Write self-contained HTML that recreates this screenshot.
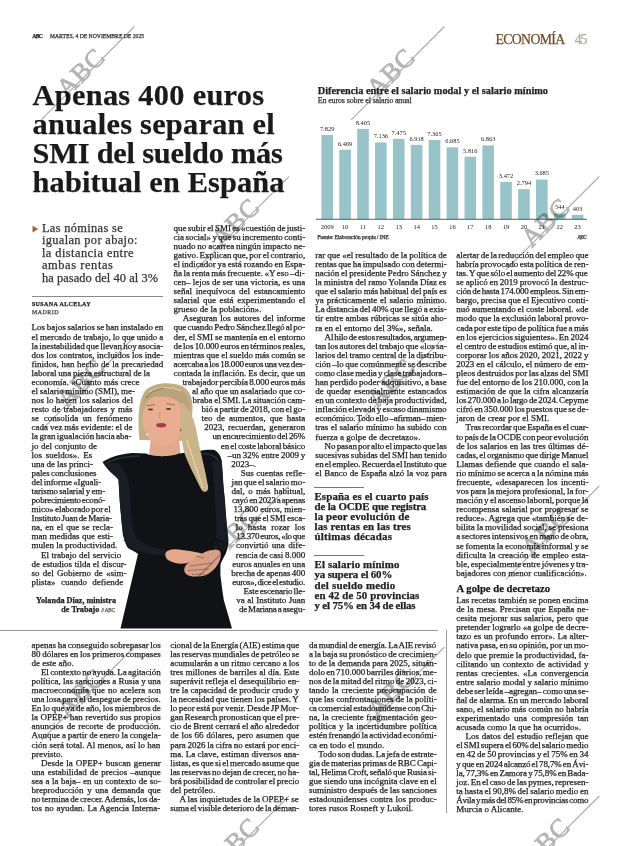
<!DOCTYPE html>
<html><head><meta charset="utf-8">
<style>
html,body{margin:0;padding:0;background:#fff;}
body{width:620px;height:846px;position:relative;overflow:hidden;font-family:"Liberation Serif","DejaVu Serif",serif;color:#222;}
.t{position:absolute;white-space:nowrap;line-height:1;-webkit-text-stroke:0.25px currentColor;}
.r{position:absolute;background:#999;}
svg{position:absolute;left:0;top:0;}
.vl{font:6.4px "Liberation Serif",serif;fill:#222;text-anchor:middle;}
.yl{font:6.5px "Liberation Serif",serif;fill:#222;text-anchor:middle;}
.wm{font:26px "Liberation Serif",serif;fill:#b4b4b4;stroke:#b4b4b4;stroke-width:0.8;letter-spacing:1px;}
.wl{stroke:#ababab;stroke-width:1.1;}
</style></head><body>
<svg width="620" height="846" viewBox="0 0 620 846">
<rect x="321.40" y="135.04" width="11.6" height="84.16" fill="#98c3c9"/>
<text x="327.20" y="130.94" class="vl">7.829</text>
<text x="327.20" y="228.5" class="yl">2009</text>
<rect x="339.29" y="149.66" width="11.6" height="69.54" fill="#98c3c9"/>
<text x="345.09" y="145.56" class="vl">6.469</text>
<text x="345.09" y="228.5" class="yl">10</text>
<rect x="357.17" y="128.85" width="11.6" height="90.35" fill="#98c3c9"/>
<text x="362.97" y="124.75" class="vl">8.405</text>
<text x="362.97" y="228.5" class="yl">11</text>
<rect x="375.06" y="142.49" width="11.6" height="76.71" fill="#98c3c9"/>
<text x="380.86" y="138.39" class="vl">7.136</text>
<text x="380.86" y="228.5" class="yl">12</text>
<rect x="392.94" y="138.84" width="11.6" height="80.36" fill="#98c3c9"/>
<text x="398.74" y="134.74" class="vl">7.475</text>
<text x="398.74" y="228.5" class="yl">13</text>
<rect x="410.83" y="144.83" width="11.6" height="74.37" fill="#98c3c9"/>
<text x="416.63" y="140.73" class="vl">6.918</text>
<text x="416.63" y="228.5" class="yl">14</text>
<rect x="428.72" y="140.03" width="11.6" height="79.17" fill="#98c3c9"/>
<text x="434.52" y="135.93" class="vl">7.365</text>
<text x="434.52" y="228.5" class="yl">15</text>
<rect x="446.60" y="147.34" width="11.6" height="71.86" fill="#98c3c9"/>
<text x="452.40" y="143.24" class="vl">6.685</text>
<text x="452.40" y="228.5" class="yl">16</text>
<rect x="464.49" y="156.68" width="11.6" height="62.52" fill="#98c3c9"/>
<text x="470.29" y="152.58" class="vl">5.816</text>
<text x="470.29" y="228.5" class="yl">17</text>
<rect x="482.37" y="145.42" width="11.6" height="73.78" fill="#98c3c9"/>
<text x="488.17" y="141.32" class="vl">6.863</text>
<text x="488.17" y="228.5" class="yl">18</text>
<rect x="500.26" y="181.88" width="11.6" height="37.32" fill="#98c3c9"/>
<text x="506.06" y="177.78" class="vl">3.472</text>
<text x="506.06" y="228.5" class="yl">19</text>
<rect x="518.15" y="189.16" width="11.6" height="30.04" fill="#98c3c9"/>
<text x="523.95" y="185.06" class="vl">2.794</text>
<text x="523.95" y="228.5" class="yl">20</text>
<rect x="536.03" y="179.59" width="11.6" height="39.61" fill="#98c3c9"/>
<text x="541.83" y="175.49" class="vl">3.685</text>
<text x="541.83" y="228.5" class="yl">21</text>
<rect x="553.92" y="213.35" width="11.6" height="5.85" fill="#98c3c9"/>
<text x="559.72" y="209.25" class="vl">544</text>
<text x="559.72" y="228.5" class="yl">22</text>
<rect x="571.80" y="214.87" width="11.6" height="4.33" fill="#98c3c9"/>
<text x="577.60" y="210.77" class="vl">403</text>
<text x="577.60" y="228.5" class="yl">23</text>
<rect x="316" y="218.8" width="271" height="0.9" fill="#3c4c4e"/>
<path d="M139.5,440 C137.5,420 138,401 145,391 C153,382.5 170,381.5 182,386 C190,390 193,399 192.5,410 C192,421 190,431 188,441 Z" fill="#c3ad86"/>
<path d="M151,436 L179,436 L180.5,456 L149,456 Z" fill="#e2a98d"/>
<path d="M102.5,462 C110,457 120,454 132,453 L146,453.5 C152,457 172,457 179,453.5 L198,451 C206,449.5 211,449.5 214.6,450 C218,452 220.5,455 221.5,460 C222.5,467 222.5,474 222.7,480 C223.5,487 224.3,494 225,500 L226.2,520 L228.5,540 C228,547 227,551 225,555 C223,559 221,562 220.4,565 L220.4,575 C221.5,584 222.5,592 223.8,600 L232,628.6 L120.5,628.6 L138,554 C135,551.5 131,550 128,548 C126,546 124.5,540 122.9,535 L121.3,520 L119.7,500 L118.5,479 C112,474 106,468 102.5,462 Z" fill="#101216"/>
<path d="M106,463 C116,458 128,456 140,456" stroke="#2c2f36" stroke-width="1.5" fill="none"/>
<path d="M200,454 C208,453 214,455 218,460" stroke="#2c2f36" stroke-width="1.5" fill="none"/>
<path d="M124,540 C134,548 150,552 168,556" stroke="#2a2d34" stroke-width="1.2" fill="none"/>
<ellipse cx="163.6" cy="419.5" rx="21" ry="26" fill="#e9ae92"/>
<path d="M143.5,404 C145,392 154,386 166,385.5 C178,385.5 187,392 189.5,403 C190,410 189,416 187,421 C185,412 182,404 176,400 C168,395.5 157,395 149,398.5 C146.5,400 145,402 143.5,404 Z" fill="#b9a27c"/>
<path d="M149,392 C158,386.5 171,386 181,390.5" stroke="#d8c6a0" stroke-width="1.6" fill="none"/>
<path d="M146,398 C150,392 156,389 164,388.5" stroke="#8f7b5c" stroke-width="1" fill="none"/>
<path d="M146.5,406 L155,404.5 M166,403.5 L175,405" stroke="#9a7460" stroke-width="1"/>
<ellipse cx="150.5" cy="409.5" rx="2.6" ry="1.1" fill="#5a3a30"/>
<ellipse cx="168.5" cy="409" rx="2.6" ry="1.1" fill="#5a3a30"/>
<path d="M160,412 C159,416 158,418 161,419" stroke="#c98e78" stroke-width="0.9" fill="none"/>
<ellipse cx="161.2" cy="425.3" rx="5" ry="2.2" fill="#a83c4a"/>
<circle cx="181.5" cy="430" r="1.7" fill="#3e6a86"/><circle cx="147.4" cy="434.5" r="1.5" fill="#d8d2c6"/>
<path d="M181,402 C189,407 195,420 197,434 C200,452 205,468 208,486 C209,492 204,494 201,489 C195,476 188,464 184,452 C182,444 181,432 180.5,422 Z" fill="#cbb48a"/>
<path d="M187,440 C192,456 197,470 203,488" stroke="#e4d3ae" stroke-width="1.2" fill="none"/>
<path d="M104,463 C110,470 116,476 118.5,480 L120,505 L122,525 C123.5,537 126,545 132,549 C142,553 155,555 166,556 L167,550 C156,548 145,545 138,540 C132,532 131,515 130,495 C129,480 126,470 118,463 Z" fill="#1a1d24"/>
<path d="M221.5,460 C223,475 224,495 226,515 L228,540 C227,548 224,553 220,555 L213,552 C215,545 217,535 216,520 C215,500 214,480 212,462 Z" fill="#1a1d24"/>
<path d="M165.5,553 C168,549 174,548.5 182,550 C190,551 198,552 206,554.5 C209,556 208,559.5 204,560 C198,561 192,561 187,563 C181,565 173,563 168,560 C166,558.5 165,556 165.5,553 Z" fill="#e2a98f"/>
<path d="M220,551 C217,549 211,549.5 205,552 C199,555 193,559 188,563 C184,566 183,571 186,574 C190,577.5 200,577 206,575 C212,572.5 217,567 219.5,561 C221,557 221.5,553.5 220,551 Z" fill="#d99e85"/>
<path d="M190,566 L212,563 M188,570.5 L209,569 M192,574.5 L205,574 M196,556 L204,558" stroke="#8c5a48" stroke-width="0.7" fill="none"/>
<polygon points="32.5,225.8 38.4,229.1 32.5,232.4" fill="#9b6a3c"/>
</svg>
<div class="r" style="left:31.6px;top:295.7px;width:131.6px;height:1px;background:#8a8a8a"></div>
<div class="r" style="left:313.9px;top:487px;width:49.8px;height:0.9px;background:#777"></div>
<div class="r" style="left:313.9px;top:555px;width:50.3px;height:0.9px;background:#777"></div>
<div class="r" style="left:0;top:629.8px;width:437.6px;height:1.1px;background:#999"></div>
<div class="r" style="left:446px;top:629.5px;width:0.9px;height:183px;background:#999"></div>
<div class="t" style="left:31.60px;top:323.46px;font-size:9.0px;word-spacing:-0.562px;">Los bajos salarios se han instalado en</div>
<div class="t" style="left:31.60px;top:332.55px;font-size:9.0px;word-spacing:-0.264px;">el mercado de trabajo, lo que unido a</div>
<div class="t" style="left:31.60px;top:341.63px;font-size:9.0px;letter-spacing:-0.042px;word-spacing:-0.900px;">la inestabilidad que llevan hoy asocia-</div>
<div class="t" style="left:31.60px;top:350.71px;font-size:9.0px;word-spacing:0.022px;">dos los contratos, incluidos los inde-</div>
<div class="t" style="left:31.60px;top:359.79px;font-size:9.0px;word-spacing:0.332px;">finidos, han hecho de la precariedad</div>
<div class="t" style="left:31.60px;top:368.88px;font-size:9.0px;word-spacing:-0.558px;">laboral una pieza estructural de la</div>
<div class="t" style="left:31.60px;top:377.96px;font-size:9.0px;word-spacing:-0.019px;">economía. «Cuanto más crece</div>
<div class="t" style="left:31.60px;top:387.04px;font-size:9.0px;word-spacing:-0.607px;">el salario mínimo (SMI), me-</div>
<div class="t" style="left:31.60px;top:396.13px;font-size:9.0px;word-spacing:0.135px;">nos lo hacen los salarios del</div>
<div class="t" style="left:31.60px;top:405.21px;font-size:9.0px;word-spacing:0.734px;">resto de trabajadores y más</div>
<div class="t" style="left:31.60px;top:414.29px;font-size:9.0px;word-spacing:2.391px;">se consolida un fenómeno</div>
<div class="t" style="left:31.60px;top:423.38px;font-size:9.0px;word-spacing:-0.359px;">cada vez más evidente: el de</div>
<div class="t" style="left:31.60px;top:432.46px;font-size:9.0px;word-spacing:-0.886px;">la gran igualación hacia aba-</div>
<div class="t" style="left:31.60px;top:441.54px;font-size:9.0px;word-spacing:0.255px;">jo del conjunto de</div>
<div class="t" style="left:31.60px;top:450.62px;font-size:9.0px;word-spacing:1.474px;">los sueldos». Es</div>
<div class="t" style="left:31.60px;top:459.71px;font-size:9.0px;word-spacing:-0.276px;">una de las princi-</div>
<div class="t" style="left:31.60px;top:468.79px;font-size:9.0px;letter-spacing:-0.078px;word-spacing:-0.900px;">pales conclusiones</div>
<div class="t" style="left:31.60px;top:477.87px;font-size:9.0px;letter-spacing:-0.051px;word-spacing:-0.900px;">del informe «Iguali-</div>
<div class="t" style="left:31.60px;top:486.96px;font-size:9.0px;letter-spacing:-0.092px;word-spacing:-0.900px;">tarismo salarial y em-</div>
<div class="t" style="left:31.60px;top:496.04px;font-size:9.0px;letter-spacing:-0.222px;word-spacing:-0.900px;">pobrecimiento econó-</div>
<div class="t" style="left:31.60px;top:505.12px;font-size:9.0px;letter-spacing:-0.063px;word-spacing:-0.900px;">mico» elaborado por el</div>
<div class="t" style="left:31.60px;top:514.21px;font-size:9.0px;letter-spacing:-0.136px;word-spacing:-0.900px;">Instituto Juan de Maria-</div>
<div class="t" style="left:31.60px;top:523.29px;font-size:9.0px;word-spacing:0.689px;">na, en el que se recla-</div>
<div class="t" style="left:31.60px;top:532.37px;font-size:9.0px;word-spacing:0.224px;">man medidas que esti-</div>
<div class="t" style="left:31.60px;top:541.45px;font-size:9.0px;">mulen la productividad.</div>
<div class="t" style="left:40.90px;top:550.54px;font-size:9.0px;word-spacing:0.360px;">El trabajo del servicio</div>
<div class="t" style="left:31.60px;top:559.62px;font-size:9.0px;word-spacing:0.176px;">de estudios tilda el discur-</div>
<div class="t" style="left:31.60px;top:568.70px;font-size:9.0px;word-spacing:1.004px;">so del Gobierno de «sim-</div>
<div class="t" style="left:31.60px;top:577.79px;font-size:9.0px;word-spacing:3.065px;">plista» cuando defiende</div>
<div class="t" style="left:173.50px;top:223.56px;font-size:9.0px;letter-spacing:-0.006px;word-spacing:-0.900px;">que subir el SMI es «cuestión de justi-</div>
<div class="t" style="left:173.50px;top:232.65px;font-size:9.0px;word-spacing:-0.792px;">cia social» y que su incremento conti-</div>
<div class="t" style="left:173.50px;top:241.73px;font-size:9.0px;word-spacing:-0.399px;">nuado no acarrea ningún impacto ne-</div>
<div class="t" style="left:173.50px;top:250.81px;font-size:9.0px;letter-spacing:-0.007px;word-spacing:-0.900px;">gativo. Explican que, por el contrario,</div>
<div class="t" style="left:173.50px;top:259.89px;font-size:9.0px;word-spacing:-0.457px;">el indicador ya está rozando en Espa-</div>
<div class="t" style="left:173.50px;top:268.98px;font-size:9.0px;word-spacing:-0.677px;">ña la renta más frecuente. «Y eso –di-</div>
<div class="t" style="left:173.50px;top:278.06px;font-size:9.0px;word-spacing:-0.036px;">cen– lejos de ser una victoria, es una</div>
<div class="t" style="left:173.50px;top:287.14px;font-size:9.0px;word-spacing:1.500px;">señal inequívoca del estancamiento</div>
<div class="t" style="left:173.50px;top:296.23px;font-size:9.0px;word-spacing:1.314px;">salarial que está experimentando el</div>
<div class="t" style="left:173.50px;top:305.31px;font-size:9.0px;">grueso de la población».</div>
<div class="t" style="left:182.80px;top:314.39px;font-size:9.0px;word-spacing:0.734px;">Aseguran los autores del informe</div>
<div class="t" style="left:173.50px;top:323.48px;font-size:9.0px;letter-spacing:-0.079px;word-spacing:-0.900px;">que cuando Pedro Sánchez llegó al po-</div>
<div class="t" style="left:173.50px;top:332.56px;font-size:9.0px;word-spacing:-0.414px;">der, el SMI se mantenía en el entorno</div>
<div class="t" style="left:173.50px;top:341.64px;font-size:9.0px;letter-spacing:-0.075px;word-spacing:-0.900px;">de los 10.000 euros en términos reales,</div>
<div class="t" style="left:173.50px;top:350.72px;font-size:9.0px;word-spacing:-0.378px;">mientras que el sueldo más común se</div>
<div class="t" style="left:173.50px;top:359.81px;font-size:9.0px;letter-spacing:-0.216px;word-spacing:-0.900px;">acercaba a los 18.000 euros una vez des-</div>
<div class="t" style="left:173.50px;top:368.89px;font-size:9.0px;word-spacing:-0.231px;">contada la inflación. Es decir, que un</div>
<div class="t" style="left:182.40px;top:377.97px;font-size:9.0px;letter-spacing:-0.068px;word-spacing:-0.900px;">trabajador percibía 8.000 euros más</div>
<div class="t" style="left:191.90px;top:387.06px;font-size:9.0px;word-spacing:-0.442px;">al año que un asalariado que co-</div>
<div class="t" style="left:192.60px;top:396.14px;font-size:9.0px;word-spacing:-0.672px;">braba el SMI. La situación cam-</div>
<div class="t" style="left:201.60px;top:405.22px;font-size:9.0px;letter-spacing:-0.034px;word-spacing:-0.900px;">bió a partir de 2018, con el go-</div>
<div class="t" style="left:201.60px;top:414.31px;font-size:9.0px;word-spacing:1.720px;">teo de aumentos, que hasta</div>
<div class="t" style="left:204.30px;top:423.39px;font-size:9.0px;word-spacing:1.225px;">2023, recuerdan, generaron</div>
<div class="t" style="left:212.40px;top:432.47px;font-size:9.0px;letter-spacing:-0.113px;word-spacing:-0.900px;">un encarecimiento del 26%</div>
<div class="t" style="left:220.80px;top:441.55px;font-size:9.0px;letter-spacing:-0.098px;word-spacing:-0.900px;">en el coste laboral básico</div>
<div class="t" style="left:227.60px;top:450.64px;font-size:9.0px;word-spacing:-0.471px;">–un 32% entre 2009 y</div>
<div class="t" style="left:231.30px;top:459.72px;font-size:9.0px;">2023–.</div>
<div class="t" style="left:240.80px;top:468.80px;font-size:9.0px;word-spacing:0.212px;">Sus cuentas refle-</div>
<div class="t" style="left:231.60px;top:477.89px;font-size:9.0px;letter-spacing:-0.037px;word-spacing:-0.900px;">jan que el salario mo-</div>
<div class="t" style="left:231.60px;top:486.97px;font-size:9.0px;word-spacing:1.122px;">dal, o más habitual,</div>
<div class="t" style="left:232.00px;top:496.05px;font-size:9.0px;letter-spacing:-0.208px;word-spacing:-0.900px;">cayó en 2023 a apenas</div>
<div class="t" style="left:233.40px;top:505.14px;font-size:9.0px;word-spacing:-0.093px;">13.800 euros, mien-</div>
<div class="t" style="left:234.50px;top:514.22px;font-size:9.0px;letter-spacing:-0.084px;word-spacing:-0.900px;">tras que el SMI esca-</div>
<div class="t" style="left:235.70px;top:523.30px;font-size:9.0px;word-spacing:2.757px;">lo hasta rozar los</div>
<div class="t" style="left:236.30px;top:532.38px;font-size:9.0px;letter-spacing:-0.307px;word-spacing:-0.900px;">13.370 euros, «lo que</div>
<div class="t" style="left:236.00px;top:541.47px;font-size:9.0px;word-spacing:1.111px;">convirtió una dife-</div>
<div class="t" style="left:235.70px;top:550.55px;font-size:9.0px;word-spacing:-0.656px;">rencia de casi 8.000</div>
<div class="t" style="left:232.30px;top:559.63px;font-size:9.0px;word-spacing:-0.607px;">euros anuales en una</div>
<div class="t" style="left:231.30px;top:568.72px;font-size:9.0px;letter-spacing:-0.032px;word-spacing:-0.900px;">brecha de apenas 400</div>
<div class="t" style="left:232.30px;top:577.80px;font-size:9.0px;letter-spacing:-0.310px;word-spacing:-0.900px;">euros», dice el estudio.</div>
<div class="t" style="left:243.60px;top:586.88px;font-size:9.0px;letter-spacing:-0.143px;word-spacing:-0.900px;">Este escenario lle-</div>
<div class="t" style="left:236.30px;top:595.97px;font-size:9.0px;word-spacing:0.221px;">va al Instituto Juan</div>
<div class="t" style="left:238.90px;top:605.05px;font-size:9.0px;letter-spacing:-0.206px;word-spacing:-0.900px;">de Mariana a asegu-</div>
<div class="t" style="left:315.30px;top:250.86px;font-size:9.0px;word-spacing:-0.256px;">rar que «el resultado de la política de</div>
<div class="t" style="left:315.30px;top:259.95px;font-size:9.0px;word-spacing:-0.761px;">rentas que ha impulsado con determi-</div>
<div class="t" style="left:315.30px;top:269.03px;font-size:9.0px;word-spacing:-0.560px;">nación el presidente Pedro Sánchez y</div>
<div class="t" style="left:315.30px;top:278.11px;font-size:9.0px;word-spacing:-0.276px;">la ministra del ramo Yolanda Díaz es</div>
<div class="t" style="left:315.30px;top:287.19px;font-size:9.0px;word-spacing:-0.615px;">que el salario más habitual del país es</div>
<div class="t" style="left:315.30px;top:296.28px;font-size:9.0px;word-spacing:0.675px;">ya prácticamente el salario mínimo.</div>
<div class="t" style="left:315.30px;top:305.36px;font-size:9.0px;word-spacing:-0.829px;">La distancia del 40% que llegó a exis-</div>
<div class="t" style="left:315.30px;top:314.44px;font-size:9.0px;word-spacing:-0.092px;">tir entre ambas rúbricas se sitúa aho-</div>
<div class="t" style="left:315.30px;top:323.53px;font-size:9.0px;">ra en el entorno del 3%», señala.</div>
<div class="t" style="left:324.60px;top:332.61px;font-size:9.0px;letter-spacing:-0.200px;word-spacing:-0.900px;">Al hilo de estos resultados, argumen-</div>
<div class="t" style="left:315.30px;top:341.69px;font-size:9.0px;letter-spacing:-0.000px;word-spacing:-0.900px;">tan los autores del trabajo que «los sa-</div>
<div class="t" style="left:315.30px;top:350.78px;font-size:9.0px;word-spacing:-0.675px;">larios del tramo central de la distribu-</div>
<div class="t" style="left:315.30px;top:359.86px;font-size:9.0px;word-spacing:-0.761px;">ción –lo que comúnmente se describe</div>
<div class="t" style="left:315.30px;top:368.94px;font-size:9.0px;letter-spacing:-0.077px;word-spacing:-0.900px;">como clase media y clase trabajadora–</div>
<div class="t" style="left:315.30px;top:378.02px;font-size:9.0px;word-spacing:-0.613px;">han perdido poder adquisitivo, a base</div>
<div class="t" style="left:315.30px;top:387.11px;font-size:9.0px;word-spacing:0.571px;">de quedar esencialmente estancados</div>
<div class="t" style="left:315.30px;top:396.19px;font-size:9.0px;word-spacing:-0.811px;">en un contexto de baja productividad,</div>
<div class="t" style="left:315.30px;top:405.27px;font-size:9.0px;letter-spacing:-0.042px;word-spacing:-0.900px;">inflación elevada y escaso dinamismo</div>
<div class="t" style="left:315.30px;top:414.36px;font-size:9.0px;letter-spacing:-0.159px;word-spacing:-0.900px;">económico. Todo ello –afirman– mien-</div>
<div class="t" style="left:315.30px;top:423.44px;font-size:9.0px;word-spacing:0.154px;">tras el salario mínimo ha subido con</div>
<div class="t" style="left:315.30px;top:432.52px;font-size:9.0px;">fuerza a golpe de decretazo».</div>
<div class="t" style="left:324.60px;top:441.61px;font-size:9.0px;letter-spacing:-0.080px;word-spacing:-0.900px;">No pasan por alto el impacto que las</div>
<div class="t" style="left:315.30px;top:450.69px;font-size:9.0px;word-spacing:-0.666px;">sucesivas subidas del SMI han tenido</div>
<div class="t" style="left:315.30px;top:459.77px;font-size:9.0px;letter-spacing:-0.103px;word-spacing:-0.900px;">en el empleo. Recuerda el Instituto que</div>
<div class="t" style="left:315.30px;top:468.85px;font-size:9.0px;word-spacing:0.245px;">el Banco de España alzó la voz para</div>
<div class="t" style="left:456.30px;top:250.86px;font-size:9.0px;word-spacing:-0.888px;">alertar de la reducción del empleo que</div>
<div class="t" style="left:456.30px;top:259.95px;font-size:9.0px;word-spacing:-0.718px;">habría provocado esta política de ren-</div>
<div class="t" style="left:456.30px;top:269.03px;font-size:9.0px;letter-spacing:-0.092px;word-spacing:-0.900px;">tas. Y que sólo el aumento del 22% que</div>
<div class="t" style="left:456.30px;top:278.11px;font-size:9.0px;word-spacing:-0.393px;">se aplicó en 2019 provocó la destruc-</div>
<div class="t" style="left:456.30px;top:287.19px;font-size:9.0px;letter-spacing:-0.161px;word-spacing:-0.900px;">ción de hasta 174.000 empleos. Sin em-</div>
<div class="t" style="left:456.30px;top:296.28px;font-size:9.0px;word-spacing:-0.437px;">bargo, precisa que el Ejecutivo conti-</div>
<div class="t" style="left:456.30px;top:305.36px;font-size:9.0px;word-spacing:-0.371px;">nuó aumentando el coste laboral. «de</div>
<div class="t" style="left:456.30px;top:314.44px;font-size:9.0px;word-spacing:-0.523px;">modo que la exclusión laboral provo-</div>
<div class="t" style="left:456.30px;top:323.53px;font-size:9.0px;letter-spacing:-0.017px;word-spacing:-0.900px;">cada por este tipo de política fue a más</div>
<div class="t" style="left:456.30px;top:332.61px;font-size:9.0px;word-spacing:-0.674px;">en los ejercicios siguientes». En 2024</div>
<div class="t" style="left:456.30px;top:341.69px;font-size:9.0px;letter-spacing:-0.002px;word-spacing:-0.900px;">el centro de estudios estimó que, al in-</div>
<div class="t" style="left:456.30px;top:350.78px;font-size:9.0px;word-spacing:-0.313px;">corporar los años 2020, 2021, 2022 y</div>
<div class="t" style="left:456.30px;top:359.86px;font-size:9.0px;word-spacing:-0.193px;">2023 en el cálculo, el número de em-</div>
<div class="t" style="left:456.30px;top:368.94px;font-size:9.0px;word-spacing:-0.729px;">pleos destruidos por las alzas del SMI</div>
<div class="t" style="left:456.30px;top:378.02px;font-size:9.0px;word-spacing:-0.517px;">fue del entorno de los 210.000, con la</div>
<div class="t" style="left:456.30px;top:387.11px;font-size:9.0px;word-spacing:0.186px;">estimación de que la cifra alcanzaría</div>
<div class="t" style="left:456.30px;top:396.19px;font-size:9.0px;letter-spacing:-0.140px;word-spacing:-0.900px;">los 270.000 a lo largo de 2024. Cepyme</div>
<div class="t" style="left:456.30px;top:405.27px;font-size:9.0px;letter-spacing:-0.041px;word-spacing:-0.900px;">cifró en 350.000 los puestos que se de-</div>
<div class="t" style="left:456.30px;top:414.36px;font-size:9.0px;">jaron de crear por el SMI.</div>
<div class="t" style="left:465.60px;top:423.44px;font-size:9.0px;letter-spacing:-0.064px;word-spacing:-0.900px;">Tras recordar que España es el cuar-</div>
<div class="t" style="left:456.30px;top:432.52px;font-size:9.0px;letter-spacing:-0.078px;word-spacing:-0.900px;">to país de la OCDE con peor evolución</div>
<div class="t" style="left:456.30px;top:441.61px;font-size:9.0px;word-spacing:0.055px;">de los salarios en las tres últimas dé-</div>
<div class="t" style="left:456.30px;top:450.69px;font-size:9.0px;letter-spacing:-0.075px;word-spacing:-0.900px;">cadas, el organismo que dirige Manuel</div>
<div class="t" style="left:456.30px;top:459.77px;font-size:9.0px;word-spacing:0.182px;">Llamas defiende que cuando el sala-</div>
<div class="t" style="left:456.30px;top:468.85px;font-size:9.0px;word-spacing:-0.586px;">rio mínimo se acerca a la nómina más</div>
<div class="t" style="left:456.30px;top:477.94px;font-size:9.0px;word-spacing:1.056px;">frecuente, «desaparecen los incenti-</div>
<div class="t" style="left:456.30px;top:487.02px;font-size:9.0px;word-spacing:-0.569px;">vos para la mejora profesional, la for-</div>
<div class="t" style="left:456.30px;top:496.10px;font-size:9.0px;letter-spacing:-0.005px;word-spacing:-0.900px;">mación y el ascenso laboral, porque la</div>
<div class="t" style="left:456.30px;top:505.19px;font-size:9.0px;word-spacing:0.165px;">recompensa salarial por progresar se</div>
<div class="t" style="left:456.30px;top:514.27px;font-size:9.0px;word-spacing:-0.368px;">reduce». Agrega que «también se de-</div>
<div class="t" style="left:456.30px;top:523.35px;font-size:9.0px;word-spacing:-0.373px;">bilita la movilidad social, se presiona</div>
<div class="t" style="left:456.30px;top:532.44px;font-size:9.0px;letter-spacing:-0.019px;word-spacing:-0.900px;">a sectores intensivos en mano de obra,</div>
<div class="t" style="left:456.30px;top:541.52px;font-size:9.0px;word-spacing:-0.475px;">se fomenta la economía informal y se</div>
<div class="t" style="left:456.30px;top:550.60px;font-size:9.0px;word-spacing:0.383px;">dificulta la creación de empleo esta-</div>
<div class="t" style="left:456.30px;top:559.68px;font-size:9.0px;letter-spacing:-0.035px;word-spacing:-0.900px;">ble, especialmente entre jóvenes y tra-</div>
<div class="t" style="left:456.30px;top:568.77px;font-size:9.0px;">bajadores con menor cualificación».</div>
<div class="t" style="left:456.30px;top:596.02px;font-size:9.0px;word-spacing:-0.318px;">Las recetas también se ponen encima</div>
<div class="t" style="left:456.30px;top:605.10px;font-size:9.0px;word-spacing:0.317px;">de la mesa. Precisan que España ne-</div>
<div class="t" style="left:456.30px;top:614.18px;font-size:9.0px;word-spacing:0.429px;">cesita mejorar sus salarios, pero que</div>
<div class="t" style="left:456.30px;top:623.27px;font-size:9.0px;word-spacing:-0.216px;">pretender lograrlo «a golpe de decre-</div>
<div class="t" style="left:456.30px;top:632.35px;font-size:9.0px;word-spacing:0.264px;">tazo es un profundo error». La alter-</div>
<div class="t" style="left:456.30px;top:641.43px;font-size:9.0px;word-spacing:-0.804px;">nativa pasa, en su opinión, por un mo-</div>
<div class="t" style="left:456.30px;top:650.51px;font-size:9.0px;word-spacing:-0.270px;">delo que premie la productividad, fa-</div>
<div class="t" style="left:456.30px;top:659.60px;font-size:9.0px;word-spacing:0.678px;">cilitando un contexto de actividad y</div>
<div class="t" style="left:456.30px;top:668.68px;font-size:9.0px;word-spacing:1.279px;">rentas crecientes. «La convergencia</div>
<div class="t" style="left:456.30px;top:677.76px;font-size:9.0px;word-spacing:-0.023px;">entre salario modal y salario mínimo</div>
<div class="t" style="left:456.30px;top:686.85px;font-size:9.0px;letter-spacing:-0.054px;word-spacing:-0.900px;">debe ser leída –agregan– como una se-</div>
<div class="t" style="left:456.30px;top:695.93px;font-size:9.0px;word-spacing:-0.431px;">ñal de alarma. En un mercado laboral</div>
<div class="t" style="left:456.30px;top:705.01px;font-size:9.0px;word-spacing:-0.185px;">sano, el salario más común no habría</div>
<div class="t" style="left:456.30px;top:714.10px;font-size:9.0px;word-spacing:1.964px;">experimentado una compresión tan</div>
<div class="t" style="left:456.30px;top:723.18px;font-size:9.0px;">acusada como la que ha ocurrido».</div>
<div class="t" style="left:465.60px;top:732.26px;font-size:9.0px;word-spacing:0.317px;">Los datos del estudio reflejan que</div>
<div class="t" style="left:456.30px;top:741.34px;font-size:9.0px;letter-spacing:-0.103px;word-spacing:-0.900px;">el SMI supera el 60% del salario medio</div>
<div class="t" style="left:456.30px;top:750.43px;font-size:9.0px;word-spacing:-0.624px;">en 42 de 50 provincias y el 75% en 34</div>
<div class="t" style="left:456.30px;top:759.51px;font-size:9.0px;letter-spacing:-0.132px;word-spacing:-0.900px;">y que en 2024 alcanzó el 78,7% en Ávi-</div>
<div class="t" style="left:456.30px;top:768.59px;font-size:9.0px;letter-spacing:-0.101px;word-spacing:-0.900px;">la, 77,3% en Zamora y 75,8% en Bada-</div>
<div class="t" style="left:456.30px;top:777.68px;font-size:9.0px;letter-spacing:-0.021px;word-spacing:-0.900px;">joz. En el caso de las pymes, represen-</div>
<div class="t" style="left:456.30px;top:786.76px;font-size:9.0px;word-spacing:-0.622px;">ta hasta el 90,8% del salario medio en</div>
<div class="t" style="left:456.30px;top:795.84px;font-size:9.0px;letter-spacing:-0.265px;word-spacing:-0.900px;">Ávila y más del 85% en provincias como</div>
<div class="t" style="left:456.30px;top:804.93px;font-size:9.0px;">Murcia o Alicante.</div>
<div class="t" style="left:31.60px;top:640.66px;font-size:9.0px;word-spacing:-0.690px;">apenas ha conseguido sobrepasar los</div>
<div class="t" style="left:31.60px;top:649.75px;font-size:9.0px;word-spacing:-0.604px;">80 dólares en los primeros compases</div>
<div class="t" style="left:31.60px;top:658.83px;font-size:9.0px;">de este año.</div>
<div class="t" style="left:40.90px;top:667.91px;font-size:9.0px;letter-spacing:-0.032px;word-spacing:-0.900px;">El contexto no ayuda. La agitación</div>
<div class="t" style="left:31.60px;top:676.99px;font-size:9.0px;word-spacing:-0.086px;">política, las sanciones a Rusia y una</div>
<div class="t" style="left:31.60px;top:686.08px;font-size:9.0px;word-spacing:0.690px;">macroeconomía que no acelera son</div>
<div class="t" style="left:31.60px;top:695.16px;font-size:9.0px;word-spacing:-0.666px;">una losa para el despegue de precios.</div>
<div class="t" style="left:31.60px;top:704.24px;font-size:9.0px;word-spacing:-0.752px;">En lo que va de año, los miembros de</div>
<div class="t" style="left:31.60px;top:713.33px;font-size:9.0px;word-spacing:0.078px;">la OPEP+ han revertido sus propios</div>
<div class="t" style="left:31.60px;top:722.41px;font-size:9.0px;word-spacing:0.876px;">anuncios de recorte de producción.</div>
<div class="t" style="left:31.60px;top:731.49px;font-size:9.0px;word-spacing:-0.373px;">Aunque a partir de enero la congela-</div>
<div class="t" style="left:31.60px;top:740.58px;font-size:9.0px;word-spacing:0.069px;">ción será total. Al menos, así lo han</div>
<div class="t" style="left:31.60px;top:749.66px;font-size:9.0px;">previsto.</div>
<div class="t" style="left:40.90px;top:758.74px;font-size:9.0px;word-spacing:0.715px;">Desde la OPEP+ buscan generar</div>
<div class="t" style="left:31.60px;top:767.82px;font-size:9.0px;word-spacing:0.811px;">una estabilidad de precios –aunque</div>
<div class="t" style="left:31.60px;top:776.91px;font-size:9.0px;word-spacing:0.219px;">sea a la baja– en un contexto de so-</div>
<div class="t" style="left:31.60px;top:785.99px;font-size:9.0px;word-spacing:1.312px;">breproducción y una demanda que</div>
<div class="t" style="left:31.60px;top:795.07px;font-size:9.0px;letter-spacing:-0.037px;word-spacing:-0.900px;">no termina de crecer. Además, los da-</div>
<div class="t" style="left:31.60px;top:804.16px;font-size:9.0px;word-spacing:0.450px;">tos no ayudan. La Agencia Interna-</div>
<div class="t" style="left:170.20px;top:640.66px;font-size:9.0px;letter-spacing:-0.038px;word-spacing:-0.900px;">cional de la Energía (AIE) estima que</div>
<div class="t" style="left:170.20px;top:649.75px;font-size:9.0px;word-spacing:-0.841px;">las reservas mundiales de petróleo se</div>
<div class="t" style="left:170.20px;top:658.83px;font-size:9.0px;word-spacing:-0.240px;">acumularán a un ritmo cercano a los</div>
<div class="t" style="left:170.20px;top:667.91px;font-size:9.0px;word-spacing:0.132px;">tres millones de barriles al día. Este</div>
<div class="t" style="left:170.20px;top:676.99px;font-size:9.0px;word-spacing:-0.237px;">superávit refleja el desequilibrio en-</div>
<div class="t" style="left:170.20px;top:686.08px;font-size:9.0px;word-spacing:-0.073px;">tre la capacidad de producir crudo y</div>
<div class="t" style="left:170.20px;top:695.16px;font-size:9.0px;word-spacing:-0.451px;">la necesidad que tienen los países. Y</div>
<div class="t" style="left:170.20px;top:704.24px;font-size:9.0px;word-spacing:-0.756px;">lo peor está por venir. Desde JP Mor-</div>
<div class="t" style="left:170.20px;top:713.33px;font-size:9.0px;word-spacing:-0.839px;">gan Research pronostican que el pre-</div>
<div class="t" style="left:170.20px;top:722.41px;font-size:9.0px;word-spacing:-0.404px;">cio de Brent cerrará el año alrededor</div>
<div class="t" style="left:170.20px;top:731.49px;font-size:9.0px;word-spacing:0.464px;">de los 66 dólares, pero asumen que</div>
<div class="t" style="left:170.20px;top:740.58px;font-size:9.0px;word-spacing:-0.455px;">para 2026 la cifra no estará por enci-</div>
<div class="t" style="left:170.20px;top:749.66px;font-size:9.0px;word-spacing:0.060px;">ma. La clave, estiman diversos ana-</div>
<div class="t" style="left:170.20px;top:758.74px;font-size:9.0px;letter-spacing:-0.031px;word-spacing:-0.900px;">listas, es que si el mercado asume que</div>
<div class="t" style="left:170.20px;top:767.82px;font-size:9.0px;letter-spacing:-0.033px;word-spacing:-0.900px;">las reservas no dejan de crecer, no ha-</div>
<div class="t" style="left:170.20px;top:776.91px;font-size:9.0px;word-spacing:-0.740px;">brá posibilidad de controlar el precio</div>
<div class="t" style="left:170.20px;top:785.99px;font-size:9.0px;">del petróleo.</div>
<div class="t" style="left:179.50px;top:795.07px;font-size:9.0px;word-spacing:-0.227px;">A las inquietudes de la OPEP+ se</div>
<div class="t" style="left:170.20px;top:804.16px;font-size:9.0px;letter-spacing:-0.082px;word-spacing:-0.900px;">suma el visible deterioro de la deman-</div>
<div class="t" style="left:309.00px;top:640.66px;font-size:9.0px;letter-spacing:-0.052px;word-spacing:-0.900px;">da mundial de energía. La AIE revisó</div>
<div class="t" style="left:309.00px;top:649.75px;font-size:9.0px;word-spacing:-0.691px;">a la baja su pronóstico de crecimien-</div>
<div class="t" style="left:309.00px;top:658.83px;font-size:9.0px;word-spacing:-0.068px;">to de la demanda para 2025, situán-</div>
<div class="t" style="left:309.00px;top:667.91px;font-size:9.0px;letter-spacing:-0.012px;word-spacing:-0.900px;">dolo en 710.000 barriles diarios, me-</div>
<div class="t" style="left:309.00px;top:676.99px;font-size:9.0px;word-spacing:-0.865px;">nos de la mitad del ritmo de 2023, ci-</div>
<div class="t" style="left:309.00px;top:686.08px;font-size:9.0px;word-spacing:0.717px;">tando la creciente preocupación de</div>
<div class="t" style="left:309.00px;top:695.16px;font-size:9.0px;word-spacing:-0.181px;">que las confrontaciones de la políti-</div>
<div class="t" style="left:309.00px;top:704.24px;font-size:9.0px;letter-spacing:-0.144px;word-spacing:-0.900px;">ca comercial estadounidense con Chi-</div>
<div class="t" style="left:309.00px;top:713.33px;font-size:9.0px;word-spacing:0.281px;">na, la creciente fragmentación geo-</div>
<div class="t" style="left:309.00px;top:722.41px;font-size:9.0px;word-spacing:0.836px;">política y la incertidumbre política</div>
<div class="t" style="left:309.00px;top:731.49px;font-size:9.0px;letter-spacing:-0.044px;word-spacing:-0.900px;">estén frenando la actividad económi-</div>
<div class="t" style="left:309.00px;top:740.58px;font-size:9.0px;">ca en todo el mundo.</div>
<div class="t" style="left:318.30px;top:749.66px;font-size:9.0px;letter-spacing:-0.049px;word-spacing:-0.900px;">Todo son dudas. La jefa de estrate-</div>
<div class="t" style="left:309.00px;top:758.74px;font-size:9.0px;letter-spacing:-0.037px;word-spacing:-0.900px;">gia de materias primas de RBC Capi-</div>
<div class="t" style="left:309.00px;top:767.82px;font-size:9.0px;letter-spacing:-0.126px;word-spacing:-0.900px;">tal, Helima Croft, señaló que Rusia si-</div>
<div class="t" style="left:309.00px;top:776.91px;font-size:9.0px;word-spacing:-0.442px;">gue siendo una incógnita clave en el</div>
<div class="t" style="left:309.00px;top:785.99px;font-size:9.0px;word-spacing:-0.295px;">suministro después de las sanciones</div>
<div class="t" style="left:309.00px;top:795.07px;font-size:9.0px;word-spacing:0.528px;">estadounidenses contra los produc-</div>
<div class="t" style="left:309.00px;top:804.16px;font-size:9.0px;">tores rusos Rosneft y Lukoil.</div>
<div class="t" style="left:32.60px;top:79.92px;font-size:30.3px;font-weight:bold;color:#1a1a1a;letter-spacing:0.320px;">Apenas 400 euros</div>
<div class="t" style="left:32.60px;top:108.92px;font-size:30.3px;font-weight:bold;color:#1a1a1a;letter-spacing:0.280px;">anuales separan el</div>
<div class="t" style="left:32.60px;top:137.92px;font-size:30.3px;font-weight:bold;color:#1a1a1a;letter-spacing:-0.185px;">SMI del sueldo más</div>
<div class="t" style="left:32.60px;top:166.92px;font-size:30.3px;font-weight:bold;color:#1a1a1a;letter-spacing:0.152px;">habitual en España</div>
<div class="t" style="left:41.90px;top:221.52px;font-size:12.4px;color:#333;letter-spacing:0.339px;">Las nóminas se</div>
<div class="t" style="left:41.90px;top:234.12px;font-size:12.4px;color:#333;letter-spacing:0.355px;">igualan por abajo:</div>
<div class="t" style="left:41.90px;top:246.72px;font-size:12.4px;color:#333;letter-spacing:0.451px;">la distancia entre</div>
<div class="t" style="left:41.90px;top:259.31px;font-size:12.4px;color:#333;letter-spacing:0.606px;">ambas rentas</div>
<div class="t" style="left:41.90px;top:271.92px;font-size:12.4px;color:#333;letter-spacing:0.073px;">ha pasado del 40 al 3%</div>
<div class="t" style="left:31.90px;top:300.68px;font-size:6.0px;font-weight:bold;color:#222;letter-spacing:0.385px;">SUSANA ALCELAY</div>
<div class="t" style="left:31.90px;top:309.28px;font-size:6.0px;color:#444;letter-spacing:0.493px;">MADRID</div>
<div class="t" style="left:32.30px;top:33.91px;font-size:5.6px;font-weight:bold;color:#222;letter-spacing:-0.605px;">ABC</div>
<div class="t" style="left:49.90px;top:33.83px;font-size:5.7px;color:#333;letter-spacing:-0.009px;">MARTES, 4 DE NOVIEMBRE DE 2025</div>
<div class="t" style="left:495.50px;top:32.64px;font-size:13.8px;color:#6e4b2c;letter-spacing:-0.664px;">ECONOMÍA</div>
<div class="t" style="left:574.80px;top:32.64px;font-size:13.8px;color:#a9ab9b;letter-spacing:-1.197px;">45</div>
<div class="t" style="left:317.70px;top:85.67px;font-size:10.3px;font-weight:bold;color:#222;letter-spacing:0.015px;">Diferencia entre el salario modal y el salario mínimo</div>
<div class="t" style="left:317.70px;top:97.30px;font-size:8.0px;color:#333;letter-spacing:-0.132px;">En euros sobre el salario anual</div>
<div class="t" style="left:317.20px;top:235.14px;font-size:5.8px;color:#333;letter-spacing:-0.183px;">Fuente: Elaboración propia / INE</div>
<div class="t" style="left:577.30px;top:235.48px;font-size:5.4px;font-weight:bold;color:#555;letter-spacing:-0.841px;">ABC</div>
<div class="t" style="left:314.50px;top:490.67px;font-size:10.9px;font-weight:bold;color:#222;letter-spacing:0.111px;">España es el cuarto país</div>
<div class="t" style="left:314.50px;top:500.82px;font-size:10.9px;font-weight:bold;color:#222;letter-spacing:-0.134px;">de la OCDE que registra</div>
<div class="t" style="left:314.50px;top:510.97px;font-size:10.9px;font-weight:bold;color:#222;letter-spacing:0.112px;">la peor evolución de</div>
<div class="t" style="left:314.50px;top:521.12px;font-size:10.9px;font-weight:bold;color:#222;letter-spacing:0.139px;">las rentas en las tres</div>
<div class="t" style="left:314.50px;top:531.27px;font-size:10.9px;font-weight:bold;color:#222;letter-spacing:0.241px;">últimas décadas</div>
<div class="t" style="left:314.50px;top:559.17px;font-size:10.9px;font-weight:bold;color:#222;letter-spacing:0.125px;">El salario mínimo</div>
<div class="t" style="left:314.50px;top:569.37px;font-size:10.9px;font-weight:bold;color:#222;letter-spacing:-0.158px;">ya supera el 60%</div>
<div class="t" style="left:314.50px;top:579.57px;font-size:10.9px;font-weight:bold;color:#222;letter-spacing:0.217px;">del sueldo medio</div>
<div class="t" style="left:314.50px;top:589.77px;font-size:10.9px;font-weight:bold;color:#222;letter-spacing:0.102px;">en 42 de 50 provincias</div>
<div class="t" style="left:314.50px;top:599.97px;font-size:10.9px;font-weight:bold;color:#222;letter-spacing:-0.166px;">y el 75% en 34 de ellas</div>
<div class="t" style="left:456.60px;top:584.32px;font-size:10.6px;font-weight:bold;color:#1a1a1a;letter-spacing:0.018px;">A golpe de decretazo</div>
<div class="t" style="left:36.00px;top:596.63px;font-size:8.2px;font-weight:bold;color:#222;letter-spacing:-0.014px;">Yolanda Díaz, ministra</div>
<div class="t" style="left:61.30px;top:606.13px;font-size:8.2px;font-weight:bold;color:#222;">de Trabajo</div>
<div class="t" style="left:101.30px;top:608.31px;font-size:5.6px;color:#666;letter-spacing:-0.362px;">// ABC</div>
<svg width="620" height="846" viewBox="0 0 620 846" style="mix-blend-mode:multiply">
<g transform="translate(134.5,26.5) rotate(-45)"><line x1="0" y1="0" x2="-132" y2="0" class="wl"/><text x="-98.6" y="3.0" class="wm">ABC</text></g>
<g transform="translate(444.5,26.5) rotate(-45)"><line x1="0" y1="0" x2="-132" y2="0" class="wl"/><text x="-98.6" y="3.0" class="wm">ABC</text></g>
<g transform="translate(134.5,336.8) rotate(-45)"><line x1="0" y1="0" x2="-132" y2="0" class="wl"/><text x="-98.6" y="3.0" class="wm">ABC</text></g>
<g transform="translate(444.5,336.8) rotate(-45)"><line x1="0" y1="0" x2="-132" y2="0" class="wl"/><text x="-98.6" y="3.0" class="wm">ABC</text></g>
<g transform="translate(134.5,647.0) rotate(-45)"><line x1="0" y1="0" x2="-132" y2="0" class="wl"/><text x="-98.6" y="3.0" class="wm">ABC</text></g>
<g transform="translate(444.5,647.0) rotate(-45)"><line x1="0" y1="0" x2="-132" y2="0" class="wl"/><text x="-98.6" y="3.0" class="wm">ABC</text></g>
<g transform="translate(-21.0,176.5) rotate(-45)"><line x1="0" y1="0" x2="-132" y2="0" class="wl"/><text x="-98.6" y="3.0" class="wm">ABC</text></g>
<g transform="translate(289.0,176.5) rotate(-45)"><line x1="0" y1="0" x2="-132" y2="0" class="wl"/><text x="-98.6" y="3.0" class="wm">ABC</text></g>
<g transform="translate(599.3,176.5) rotate(-45)"><line x1="0" y1="0" x2="-132" y2="0" class="wl"/><text x="-98.6" y="3.0" class="wm">ABC</text></g>
<g transform="translate(-21.0,486.0) rotate(-45)"><line x1="0" y1="0" x2="-132" y2="0" class="wl"/><text x="-98.6" y="3.0" class="wm">ABC</text></g>
<g transform="translate(289.0,486.0) rotate(-45)"><line x1="0" y1="0" x2="-132" y2="0" class="wl"/><text x="-98.6" y="3.0" class="wm">ABC</text></g>
<g transform="translate(599.3,486.0) rotate(-45)"><line x1="0" y1="0" x2="-132" y2="0" class="wl"/><text x="-98.6" y="3.0" class="wm">ABC</text></g>
<g transform="translate(-21.0,796.0) rotate(-45)"><line x1="0" y1="0" x2="-132" y2="0" class="wl"/><text x="-98.6" y="3.0" class="wm">ABC</text></g>
<g transform="translate(289.0,796.0) rotate(-45)"><line x1="0" y1="0" x2="-132" y2="0" class="wl"/><text x="-98.6" y="3.0" class="wm">ABC</text></g>
<g transform="translate(599.3,796.0) rotate(-45)"><line x1="0" y1="0" x2="-132" y2="0" class="wl"/><text x="-98.6" y="3.0" class="wm">ABC</text></g>
</svg>
</body></html>
